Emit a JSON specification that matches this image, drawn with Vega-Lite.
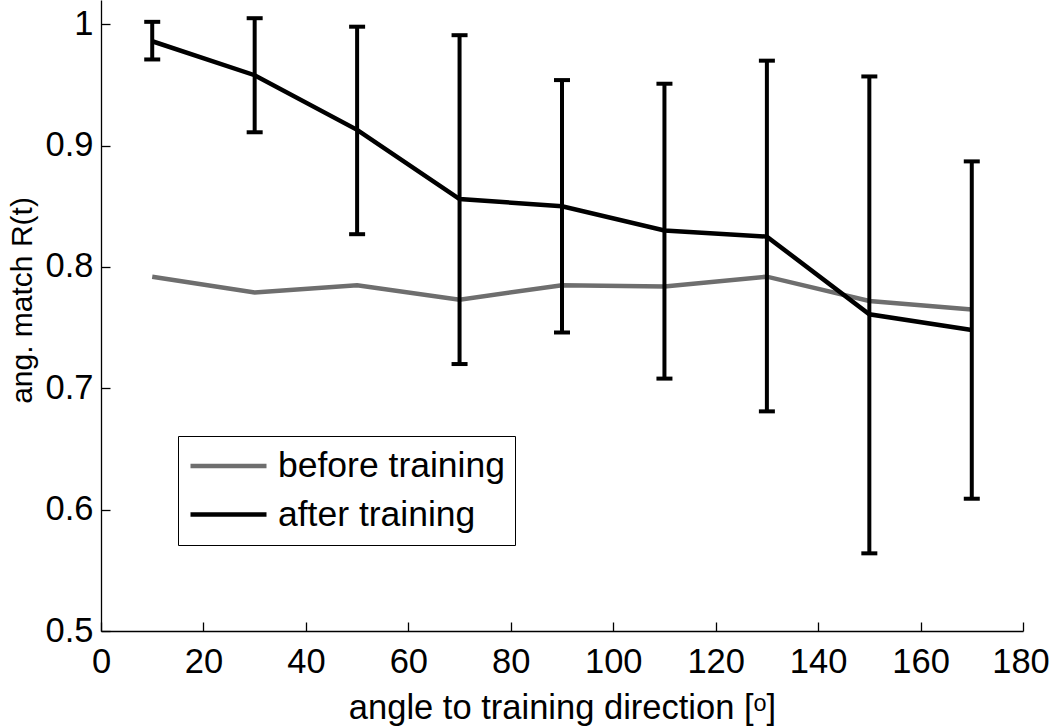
{
  "$schema": "https://vega.github.io/schema/vega-lite/v6.json",
  "width": 922,
  "height": 631,
  "autosize": {"type": "none"},
  "padding": {"left": 101, "top": 0, "right": 27, "bottom": 96},
  "background": "white",
  "config": {
    "view": {"stroke": null},
    "font": "Liberation Sans",
    "axis": {
      "grid": false,
      "domainColor": "black",
      "domainWidth": 1.3,
      "tickColor": "black",
      "tickWidth": 1.3,
      "tickSize": -9,
      "labelFont": "Liberation Sans",
      "labelFontSize": 34.5,
      "labelColor": "black",
      "titleFont": "Liberation Sans",
      "titleFontSize": 34.5,
      "titleFontWeight": "normal",
      "titleColor": "black"
    }
  },
  "data": {
    "values": [
      {"series": "before training", "angle": 10, "mean": 0.792},
      {"series": "before training", "angle": 30, "mean": 0.779},
      {"series": "before training", "angle": 50, "mean": 0.785},
      {"series": "before training", "angle": 70, "mean": 0.773},
      {"series": "before training", "angle": 90, "mean": 0.785},
      {"series": "before training", "angle": 110, "mean": 0.784},
      {"series": "before training", "angle": 130, "mean": 0.792},
      {"series": "before training", "angle": 150, "mean": 0.772},
      {"series": "before training", "angle": 170, "mean": 0.765},
      {"series": "after training", "angle": 10, "mean": 0.986, "lo": 0.971, "hi": 1.002},
      {"series": "after training", "angle": 30, "mean": 0.958, "lo": 0.911, "hi": 1.005},
      {"series": "after training", "angle": 50, "mean": 0.913, "lo": 0.827, "hi": 0.998},
      {"series": "after training", "angle": 70, "mean": 0.856, "lo": 0.72, "hi": 0.991},
      {"series": "after training", "angle": 90, "mean": 0.85, "lo": 0.746, "hi": 0.954},
      {"series": "after training", "angle": 110, "mean": 0.83, "lo": 0.708, "hi": 0.951},
      {"series": "after training", "angle": 130, "mean": 0.825, "lo": 0.681, "hi": 0.97},
      {"series": "after training", "angle": 150, "mean": 0.761, "lo": 0.564, "hi": 0.957},
      {"series": "after training", "angle": 170, "mean": 0.748, "lo": 0.609, "hi": 0.887}
    ]
  },
  "encoding": {
    "x": {
      "field": "angle",
      "type": "quantitative",
      "scale": {"domain": [0, 180], "nice": false, "zero": false},
      "axis": {
        "title": "angle to training direction [ᵒ]",
        "values": [0, 20, 40, 60, 80, 100, 120, 140, 160, 180],
        "labelPadding": 23,
        "titlePadding": 13,
        "labelFlush": false,
        "labelOffset": {"condition": {"test": "datum.value == 180", "value": -2.5}, "value": 0}
      }
    }
  },
  "layer": [
    {
      "transform": [{"filter": "datum.series == 'before training'"}],
      "mark": {"type": "line", "strokeWidth": 4.5},
      "encoding": {
        "y": {
          "field": "mean",
          "type": "quantitative",
          "scale": {"domain": [0.5, 1.02], "nice": false, "zero": false},
          "axis": {
            "title": "ang. match R(t)",
            "titleFontSize": 30,
            "titleY": 300,
            "values": [0.5, 0.6, 0.7, 0.8, 0.9, 1.0],
            "format": ".1~f",
            "labelPadding": 17,
            "titlePadding": 8
          }
        },
        "color": {
          "field": "series",
          "type": "nominal",
          "scale": {"domain": ["before training", "after training"], "range": ["#6e6e6e", "#000000"]},
          "legend": {
            "title": null,
            "orient": "none",
            "legendX": 77,
            "legendY": 436,
            "direction": "vertical",
            "symbolType": "stroke",
            "symbolSize": 5776,
            "symbolStrokeWidth": 4.5,
            "labelFont": "Liberation Sans",
            "labelFontSize": 35.5,
            "labelColor": "black",
            "labelLimit": 400,
            "labelOffset": 9,
            "padding": 10,
            "rowPadding": 8.5,
            "clipHeight": 40,
            "strokeColor": "black",
            "fillColor": "white",
            "cornerRadius": 0
          }
        }
      }
    },
    {
      "transform": [{"filter": "datum.series == 'after training'"}],
      "mark": {"type": "line", "strokeWidth": 4.5},
      "encoding": {
        "y": {"field": "mean", "type": "quantitative"},
        "color": {"field": "series", "type": "nominal"}
      }
    },
    {
      "transform": [{"filter": "datum.series == 'after training'"}],
      "mark": {"type": "rule", "color": "black", "strokeWidth": 4},
      "encoding": {
        "y": {"field": "lo", "type": "quantitative"},
        "y2": {"field": "hi"}
      }
    },
    {
      "transform": [{"filter": "datum.series == 'after training'"}],
      "mark": {"type": "tick", "orient": "horizontal", "color": "black", "size": 16, "thickness": 4, "opacity": 1},
      "encoding": {
        "y": {"field": "hi", "type": "quantitative"}
      }
    },
    {
      "transform": [{"filter": "datum.series == 'after training'"}],
      "mark": {"type": "tick", "orient": "horizontal", "color": "black", "size": 16, "thickness": 4, "opacity": 1},
      "encoding": {
        "y": {"field": "lo", "type": "quantitative"}
      }
    }
  ]
}
